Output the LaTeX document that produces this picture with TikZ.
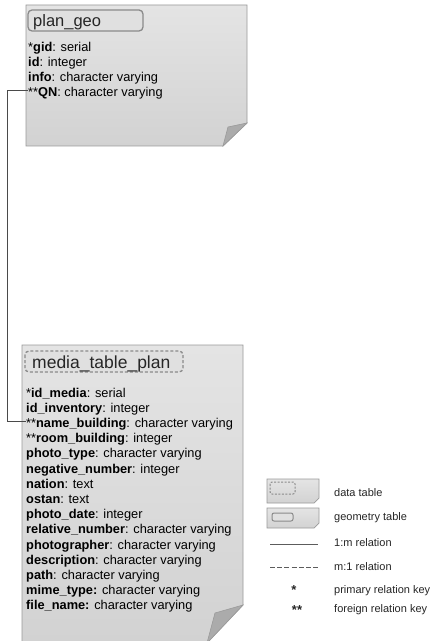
\documentclass[tikz,border=0pt]{standalone}
\usepackage{fontspec}
\setmainfont{Liberation Sans}
\definecolor{cardline}{HTML}{9A9A9A}
\definecolor{cardtop}{HTML}{E4E4E4}
\definecolor{cardbot}{HTML}{D2D2D2}
\definecolor{foldc}{HTML}{ABABAB}
\definecolor{tboxline}{HTML}{8A8A8A}
\definecolor{tboxfill}{HTML}{E0E0E0}
\definecolor{linkc}{HTML}{4A4A4A}
\tikzset{
 card/.style={draw=cardline, line width=0.8bp, top color=cardtop, bottom color=cardbot},
 fold/.style={draw=cardline, line width=0.6bp, fill=foldc},
 rowtext/.style={anchor=base west, inner sep=0pt, text=black, font=\fontsize{12.8bp}{15bp}\selectfont},
 titletext/.style={anchor=base west, inner sep=0pt, text=black!85},
 titlebox/.style={draw=tboxline, line width=1.3bp, rounded corners=4bp, fill=tboxfill},
 dtitlebox/.style={titlebox, dash pattern=on 3bp off 2bp},
 link/.style={draw=linkc, line width=1.4bp},
 legline/.style={draw=linkc!90, line width=1.7bp},
 legtext/.style={anchor=base west, inner sep=0pt, text=black!85, font=\fontsize{11bp}{13bp}\selectfont},
 legstar/.style={anchor=base, inner sep=0pt, text=black!85, font=\fontsize{13bp}{14bp}\selectfont\bfseries},
 legicon/.style={draw=cardline, line width=0.7bp, top color=cardtop, bottom color=cardbot},
}
\begin{document}
\begin{tikzpicture}[x=1bp,y=-1bp]
\useasboundingbox[fill=white] (0,0) rectangle (430,641);
% plan_geo card
\path[card] (26,5) -- (247,5) -- (247,123) -- (223,146) -- (26,146) -- cycle;
\path[fold] (247,123) -- (223,146) -- (228,127) -- cycle;
\path[titlebox] (28,10) rectangle (143,31);
\node[titletext, font=\fontsize{16.5bp}{18bp}\selectfont] (t1) at (33,27) {plan\_geo};
\node[rowtext] (gid) at (28,51.7) {*\textbf{gid}: serial};
\node[rowtext] (id) at (28,66.7) {\textbf{id}: integer};
\node[rowtext] (info) at (28,81.7) {\textbf{info}: character varying};
\node[rowtext] (qn) at (28,96.7) {**\textbf{QN}: character varying};
% media card
\path[card] (22,345) -- (243,345) -- (243,605) -- (207,643) -- (22,643) -- cycle;
\path[fold] (243,605) -- (207,643) -- (215,613) -- cycle;
\path[dtitlebox] (25,351) rectangle (183,372);
\node[titletext, font=\fontsize{17.5bp}{19bp}\selectfont] (t2) at (32,368) {media\_table\_plan};
\node[rowtext] (m1) at (26,397) {*\textbf{id\_media}: serial};
\node[rowtext] (m2) at (26,412.2) {\textbf{id\_inventory}: integer};
\node[rowtext] (m3) at (26,427.4) {**\textbf{name\_building}: character varying};
\node[rowtext] (m4) at (26,442.6) {**\textbf{room\_building}: integer};
\node[rowtext] (m5) at (26,457.8) {\textbf{photo\_type}: character varying};
\node[rowtext] (m6) at (26,473) {\textbf{negative\_number}: integer};
\node[rowtext] (m7) at (26,488.2) {\textbf{nation}: text};
\node[rowtext] (m8) at (26,503.4) {\textbf{ostan}: text};
\node[rowtext] (m9) at (26,518.6) {\textbf{photo\_date}: integer};
\node[rowtext] (m10) at (26,533.8) {\textbf{relative\_number}: character varying};
\node[rowtext] (m11) at (26,549) {\textbf{photographer}: character varying};
\node[rowtext] (m12) at (26,564.2) {\textbf{description}: character varying};
\node[rowtext] (m13) at (26,579.4) {\textbf{path}: character varying};
\node[rowtext] (m14) at (26,594.6) {\textbf{mime\_type:} character varying};
\node[rowtext] (m15) at (26,609.8) {\textbf{file\_name:} character varying};
% connector
\coordinate (c1) at ([yshift=6bp]qn.base west);
\coordinate (c2) at ([yshift=6bp]m3.base west);
\draw[link] (c1) -- (7.5,0 |- c1) -- (7.5,0 |- c2) -- (c2);
% legend
\path[legicon] (267,479) -- (319,479) -- (319,498) -- (314,503) -- (267,503) -- cycle;
\draw[draw=tboxline, line width=1bp, rounded corners=2bp, dash pattern=on 2bp off 1.5bp] (270,482) rectangle (295,494);
\node[legtext] (l1) at (334,496.7) {data table};
\path[legicon] (267,508) -- (319,508) -- (319,523) -- (314,528) -- (267,528) -- cycle;
\draw[draw=tboxline, line width=1bp, rounded corners=2bp, fill=tboxfill] (272,513) rectangle (293,521);
\node[legtext] (l2) at (334,520) {geometry table};
\coordinate (s1) at (270,544.5);
\coordinate (s2) at (318,544.5);
\draw[legline] (s1) -- (s2);
\node[legtext] (l3) at (334,546.5) {1:m relation};
\coordinate (d1) at (270,567.5);
\coordinate (d2) at (318,567.5);
\draw[legline, dash pattern=on 5bp off 2.2bp] (d1) -- (d2);
\node[legtext] (l4) at (334,570.5) {m:1 relation};
\node[legstar] (k1) at (294,594) {*};
\node[legtext] (l5) at (334,593) {primary relation key};
\node[legstar] (k2) at (297,614) {**};
\node[legtext] (l6) at (334,612.5) {foreign relation key};
\end{tikzpicture}
\end{document}
